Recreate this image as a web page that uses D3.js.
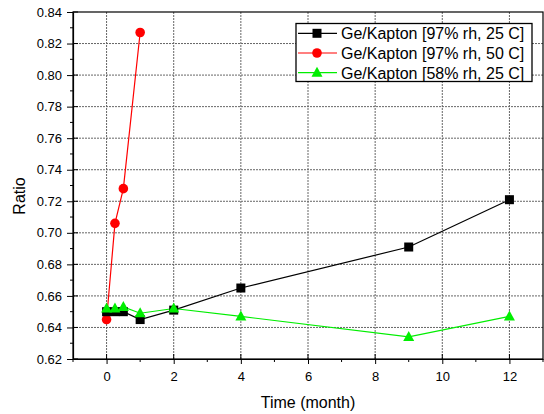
<!DOCTYPE html>
<html><head><meta charset="utf-8">
<script src="https://cdn.jsdelivr.net/npm/d3@7"></script>
<style>body{margin:0;background:#fff}svg{display:block;font-family:"Liberation Sans",Arial,sans-serif}</style>
</head><body><svg id="c" width="544" height="414"></svg>
<script>
const seriesNames = ["Ge/Kapton [97% rh, 25 C]", "Ge/Kapton [97% rh, 50 C]", "Ge/Kapton [58% rh, 25 C]"];
const blackX = [0, 0.25, 0.5, 1, 2, 4, 9, 12];
const blackY = [0.650, 0.650, 0.650, 0.645, 0.651, 0.665, 0.691, 0.721];
const redX = [0, 0.25, 0.5, 1];
const redY = [0.645, 0.706, 0.728, 0.827];
const greenX = [0, 0.25, 0.5, 1, 2, 4, 9, 12];
const greenY = [0.652, 0.652, 0.653, 0.649, 0.652, 0.647, 0.634, 0.647];
const xTicks = [0, 2, 4, 6, 8, 10, 12];
const yTicks = [0.62, 0.64, 0.66, 0.68, 0.70, 0.72, 0.74, 0.76, 0.78, 0.80, 0.82, 0.84];
const colors = ["#000000", "#ff0000", "#00ee00"];
const shapes = ["square", "circle", "triangle"];

const svg = d3.select("#c");
const L = 73, R = 543, T = 12, B = 359;
const x = d3.scaleLinear().domain([-1, 13]).range([L, R]);
const y = d3.scaleLinear().domain([0.62, 0.84]).range([B, T]);

// grid
const g = svg.append("g");
g.selectAll(".gx").data(xTicks).join("line")
  .attr("x1", d => x(d)).attr("x2", d => x(d)).attr("y1", T).attr("y2", B)
  .attr("stroke", "#666").attr("stroke-width", 1).attr("stroke-dasharray", "2,1");
g.selectAll(".gy").data(yTicks.slice(1, -1)).join("line")
  .attr("y1", d => y(d)).attr("y2", d => y(d)).attr("x1", L).attr("x2", R)
  .attr("stroke", "#666").attr("stroke-width", 1).attr("stroke-dasharray", "2,1");

// frame
svg.append("rect").attr("x", L).attr("y", T).attr("width", R - L).attr("height", B - T)
  .attr("fill", "none").attr("stroke", "#000").attr("stroke-width", 1.2);

// axes
const xa = svg.append("g").attr("transform", `translate(0,${B})`)
  .call(d3.axisBottom(x).tickValues(xTicks).tickSizeInner(5).tickSizeOuter(0).tickPadding(8).tickFormat(d3.format("d")));
const ya = svg.append("g").attr("transform", `translate(${L},0)`)
  .call(d3.axisLeft(y).tickValues(yTicks).tickSizeInner(6).tickSizeOuter(0).tickPadding(5).tickFormat(d3.format(".2f")));
[xa, ya].forEach(a => {
  a.select(".domain").attr("stroke-width", 1.2);
  a.selectAll("text").attr("font-size", 13).attr("fill", "#000").attr("font-family", '"Liberation Sans",Arial,sans-serif');
});
// inner parts of major ticks
svg.append("g").selectAll("line").data(xTicks).join("line")
  .attr("x1", d => x(d)).attr("x2", d => x(d)).attr("y1", B).attr("y2", B - 5).attr("stroke", "#000");
svg.append("g").selectAll("line").data(yTicks).join("line")
  .attr("y1", d => y(d)).attr("y2", d => y(d)).attr("x1", L).attr("x2", L + 5).attr("stroke", "#000");
// minor ticks
const xMinor = d3.range(-1, 14, 1).filter(v => v % 2 !== 0);
svg.append("g").selectAll("line").data(xMinor).join("line")
  .attr("x1", d => x(d)).attr("x2", d => x(d)).attr("y1", B).attr("y2", B + 3).attr("stroke", "#000");
const yMinor = d3.range(0, 11).map(i => 0.63 + i * 0.02);
svg.append("g").selectAll("line").data(yMinor).join("line")
  .attr("y1", d => y(d)).attr("y2", d => y(d)).attr("x1", L).attr("x2", L - 3).attr("stroke", "#000");

// labels
svg.append("text").attr("x", (L + R) / 2).attr("y", 408).attr("text-anchor", "middle")
  .attr("font-size", 16).text("Time (month)");
svg.append("text").attr("transform", `translate(25,196) rotate(-90)`).attr("text-anchor", "middle")
  .attr("font-size", 16).text("Ratio");

function marker(sel, shape, color) {
  if (shape === "square") {
    sel.append("rect").attr("x", -4.5).attr("y", -4.5).attr("width", 9).attr("height", 9).attr("fill", color);
  } else if (shape === "circle") {
    sel.append("circle").attr("r", 4.8).attr("fill", color);
  } else {
    sel.append("path").attr("d", "M0,-6L5.5,4L-5.5,4Z").attr("fill", color);
  }
}

const data = [[blackX, blackY], [redX, redY], [greenX, greenY]];
const line = d3.line().x(d => x(d[0])).y(d => y(d[1]));
[1, 0, 2].forEach(i => {
  const pts = data[i][0].map((v, j) => [v, data[i][1][j]]);
  svg.append("path").datum(pts).attr("d", line).attr("fill", "none")
    .attr("stroke", colors[i]).attr("stroke-width", 1.2);
});
[1, 0, 2].forEach(i => {
  const pts = data[i][0].map((v, j) => [v, data[i][1][j]]);
  pts.forEach(p => {
    const m = svg.append("g").attr("transform", `translate(${x(p[0])},${y(p[1])})`);
    marker(m, shapes[i], colors[i]);
  });
});

// legend
const lg = svg.append("g");
lg.append("rect").attr("x", 296).attr("y", 23.5).attr("width", 236).attr("height", 58)
  .attr("fill", "#fff").attr("stroke", "#000").attr("stroke-width", 1.3);
seriesNames.forEach((n, i) => {
  const yy = 33.3 + i * 19.7;
  lg.append("line").attr("x1", 298).attr("x2", 337).attr("y1", yy).attr("y2", yy)
    .attr("stroke", colors[i]).attr("stroke-width", 1.2);
  const m = lg.append("g").attr("transform", `translate(317,${yy})`);
  marker(m, shapes[i], colors[i]);
  lg.append("text").attr("x", 341).attr("y", yy + 5.8).attr("font-size", 16).text(n);
});
</script></body></html>
